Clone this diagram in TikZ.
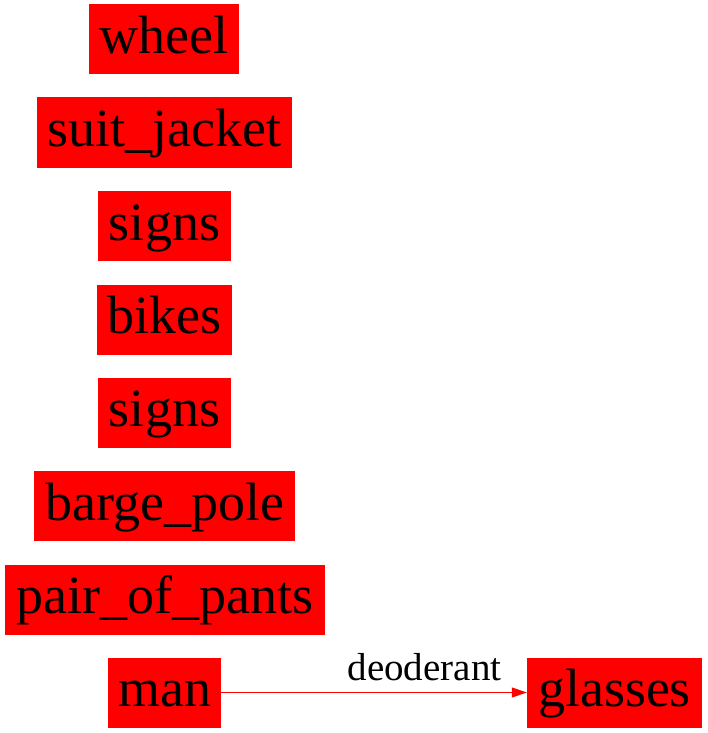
\documentclass[tikz,border=0pt]{standalone}
\usepackage{fontspec}
\setmainfont{Liberation Serif}
\usetikzlibrary{arrows.meta}
\tikzset{
  box/.style={fill=red, draw=none, inner sep=0pt, minimum height=70pt,
    font=\fontsize{54}{54}\selectfont, text height=40pt, text depth=12pt},
  lbl/.style={font=\fontsize{39}{39}\selectfont, inner sep=0pt, anchor=base}
}
\begin{document}
\begin{tikzpicture}[x=1pt,y=-1pt]
\useasboundingbox (0,0) rectangle (707,733);
\node[box, minimum width=150pt] (wheel) at (164,39.5) {wheel};
\node[box, minimum width=255pt] (suit) at (164.5,132.5) {suit\_jacket};
\node[box, minimum width=133pt] (signsA) at (164.5,226) {signs};
\node[box, minimum width=135pt] (bikes) at (164.5,319.5) {bikes};
\node[box, minimum width=133pt] (signsB) at (164.5,412.5) {signs};
\node[box, minimum width=261pt] (barge) at (164.5,506) {barge\_pole};
\node[box, minimum width=320pt] (pants) at (165,599.5) {pair\_of\_pants};
\node[box, minimum width=113pt] (man) at (164.5,692.5) {man};
\node[box, minimum width=175pt] (glasses) at (614.5,692.5) {glasses};
\draw[red, line width=1pt, -{Triangle[length=15pt,width=10pt]}] (man.east) -- (glasses.west);
\node[lbl] (dl) at (424.5,680) {deoderant};
\end{tikzpicture}
\end{document}
